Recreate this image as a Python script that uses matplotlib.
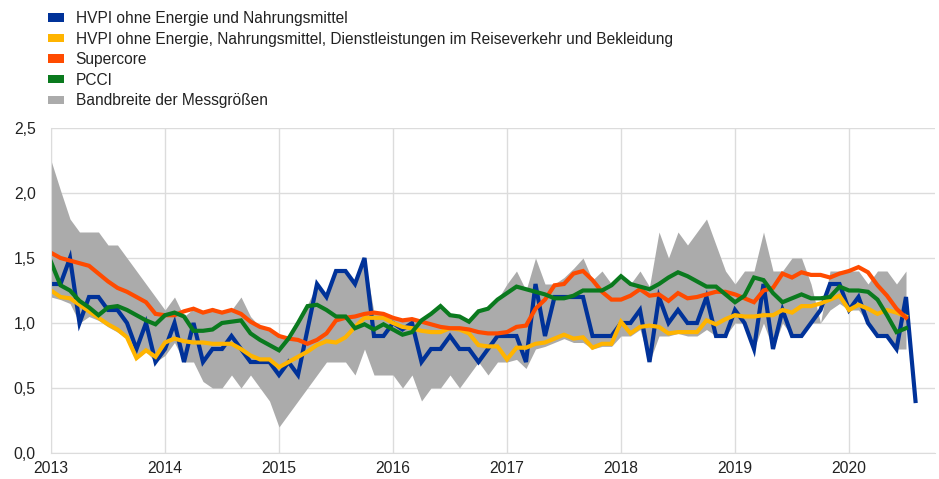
import numpy as np
import matplotlib
matplotlib.use('Agg')
import matplotlib.pyplot as plt
from matplotlib.patches import Patch

# monthly values, Jan 2013 onwards
hvpi_core = [1.3, 1.3, 1.5, 1.0, 1.2, 1.2, 1.1, 1.1, 1.0, 0.8, 1.0, 0.7,
             0.8, 1.0, 0.7, 1.0, 0.7, 0.8, 0.8, 0.9, 0.8, 0.7, 0.7, 0.7,
             0.6, 0.7, 0.6, 0.95, 1.3, 1.2, 1.4, 1.4, 1.3, 1.5, 0.9, 0.9,
             1.0, 0.95, 1.0, 0.7, 0.8, 0.8, 0.9, 0.8, 0.8, 0.7, 0.8, 0.9,
             0.9, 0.9, 0.7, 1.3, 0.9, 1.2, 1.2, 1.2, 1.2, 0.9, 0.9, 0.9,
             1.0, 1.0, 1.1, 0.7, 1.2, 1.0, 1.1, 1.0, 1.0, 1.2, 0.9, 0.9,
             1.1, 1.0, 0.8, 1.3, 0.8, 1.1, 0.9, 0.9, 1.0, 1.1, 1.3, 1.3,
             1.1, 1.2, 1.0, 0.9, 0.9, 0.8, 1.2, 0.4]

hvpi_ex_travel = [1.25, 1.2, 1.19, 1.14, 1.09, 1.04, 0.99, 0.95, 0.89, 0.73, 0.79, 0.74,
                  0.85, 0.88, 0.86, 0.85, 0.85, 0.84, 0.84, 0.84, 0.80, 0.75, 0.72, 0.72,
                  0.66, 0.70, 0.74, 0.78, 0.83, 0.86, 0.85, 0.89, 0.97, 1.04, 1.04, 1.04,
                  1.0, 0.97, 0.96, 0.94, 0.93, 0.93, 0.96, 0.95, 0.92, 0.83, 0.82, 0.82,
                  0.72, 0.81, 0.81, 0.84, 0.85, 0.88, 0.91, 0.88, 0.89, 0.81, 0.84, 0.84,
                  1.01, 0.92, 0.97, 0.98, 0.97, 0.92, 0.93, 0.93, 0.93, 1.02, 0.99, 1.03,
                  1.06, 1.05, 1.05, 1.06, 1.06, 1.10, 1.08, 1.13, 1.13, 1.15, 1.18, 1.21,
                  1.10, 1.14, 1.11, 1.07, 1.10, 1.08, 1.05]

supercore = [1.54, 1.50, 1.48, 1.46, 1.44, 1.38, 1.32, 1.27, 1.24, 1.20, 1.16, 1.07,
             1.06, 1.06, 1.09, 1.11, 1.08, 1.10, 1.08, 1.10, 1.07, 1.01, 0.97, 0.95,
             0.90, 0.88, 0.87, 0.84, 0.87, 0.92, 1.02, 1.04, 1.05, 1.07, 1.08, 1.07,
             1.04, 1.02, 1.03, 1.01, 0.99, 0.97, 0.96, 0.96, 0.95, 0.93, 0.92, 0.92,
             0.93, 0.97, 0.98, 1.11, 1.18, 1.29, 1.30, 1.38, 1.40, 1.33, 1.24, 1.18,
             1.18, 1.21, 1.26, 1.21, 1.22, 1.17, 1.23, 1.19, 1.20, 1.22, 1.24, 1.24,
             1.22, 1.19, 1.16, 1.25, 1.27, 1.38, 1.35, 1.39, 1.37, 1.37, 1.35, 1.38,
             1.40, 1.43, 1.39, 1.29, 1.21, 1.11, 1.04]

pcci = [1.47, 1.29, 1.25, 1.17, 1.12, 1.06, 1.12, 1.13, 1.10, 1.06, 1.02, 0.99,
        1.06, 1.08, 1.05, 0.94, 0.94, 0.95, 1.00, 1.01, 1.02, 0.92, 0.87, 0.83,
        0.79, 0.88, 1.00, 1.13, 1.14, 1.10, 1.05, 1.05, 0.96, 0.99, 0.95, 0.99,
        0.95, 0.91, 0.93, 1.02, 1.07, 1.13, 1.06, 1.05, 1.01, 1.09, 1.11, 1.18,
        1.23, 1.28, 1.26, 1.24, 1.22, 1.19, 1.19, 1.21, 1.25, 1.25, 1.25, 1.29,
        1.36, 1.30, 1.28, 1.26, 1.30, 1.35, 1.39, 1.36, 1.32, 1.28, 1.28, 1.22,
        1.16, 1.21, 1.35, 1.33, 1.23, 1.16, 1.19, 1.22, 1.19, 1.19, 1.20, 1.28,
        1.25, 1.25, 1.24, 1.18, 1.06, 0.93, 0.96]

band_high = [2.25, 2.02, 1.8, 1.7, 1.7, 1.7, 1.6, 1.6, 1.5, 1.4, 1.3, 1.2,
             1.1, 1.2, 1.05, 1.11, 1.08, 1.12, 1.08, 1.1, 1.2, 1.05, 0.97, 0.95,
             0.9, 0.9, 1.02, 1.14, 1.3, 1.2, 1.4, 1.4, 1.3, 1.5, 1.08, 1.07,
             1.04, 1.02, 1.03, 1.02, 1.07, 1.13, 1.06, 1.05, 1.01, 1.09, 1.11, 1.18,
             1.3, 1.4, 1.25, 1.5, 1.3, 1.3, 1.35, 1.42, 1.5, 1.33, 1.4, 1.3,
             1.36, 1.3, 1.4, 1.28, 1.7, 1.5, 1.7, 1.6, 1.7, 1.8, 1.6, 1.4,
             1.3, 1.4, 1.4, 1.7, 1.4, 1.4, 1.5, 1.5, 1.3, 1.0, 1.4, 1.4,
             1.4, 1.4, 1.3, 1.4, 1.4, 1.3, 1.4]

band_low = [1.2, 1.18, 1.15, 1.0, 1.05, 1.02, 0.97, 0.93, 0.88, 0.72, 0.78, 0.7,
            0.75, 0.85, 0.7, 0.7, 0.55, 0.5, 0.5, 0.6, 0.5, 0.6, 0.5, 0.4,
            0.2, 0.3, 0.4, 0.5, 0.6, 0.7, 0.7, 0.7, 0.6, 0.8, 0.6, 0.6,
            0.6, 0.5, 0.6, 0.4, 0.5, 0.5, 0.6, 0.5, 0.6, 0.7, 0.6, 0.7,
            0.7, 0.72, 0.65, 0.8, 0.82, 0.85, 0.88, 0.85, 0.85, 0.8, 0.82, 0.82,
            0.9, 0.9, 0.95, 0.7, 0.9, 0.9, 0.92, 0.9, 0.9, 0.95, 0.9, 0.9,
            1.0, 1.0, 0.8, 1.0, 0.8, 1.0, 0.9, 0.9, 1.0, 1.0, 1.1, 1.15,
            1.1, 1.1, 1.0, 0.9, 0.9, 0.8, 0.8]

years = list(range(2013, 2021))
y_ticks = [0.0, 0.5, 1.0, 1.5, 2.0, 2.5]

labels = ['HVPI ohne Energie und Nahrungsmittel',
          'HVPI ohne Energie, Nahrungsmittel, Dienstleistungen im Reiseverkehr und Bekleidung',
          'Supercore',
          'PCCI',
          'Bandbreite der Messgrößen']
colors = ['#003299', '#FFB400', '#FF4B00', '#0A7A1E', '#ABABAB']


def months(n):
    return 2013 + np.arange(n) / 12.0


plt.rcParams['font.family'] = ['Liberation Sans', 'DejaVu Sans']
fig = plt.figure(figsize=(9.39, 4.79), dpi=100)
ax = fig.add_axes([51 / 939, 26 / 479, 884 / 939, 325 / 479])

ax.fill_between(months(len(band_high)), band_low, band_high,
                color=colors[4], linewidth=0, zorder=1)
for series, col in zip([hvpi_core, hvpi_ex_travel, supercore, pcci], colors[:4]):
    ax.plot(months(len(series)), series, color=col, lw=3.0,
            solid_joinstyle='miter', zorder=2)

ax.set_xlim(2013, 2013 + 884 / 114)
ax.set_ylim(0, 2.5)
ax.set_xticks(years)
ax.set_xticklabels([str(y) for y in years])
ax.set_yticks(y_ticks)
ax.set_yticklabels([('%.1f' % v).replace('.', ',') for v in y_ticks])
ax.tick_params(length=0, labelsize=11.3, colors='#222222')
ax.tick_params(axis='y', pad=11)
ax.tick_params(axis='x', pad=6)
ax.grid(True, color='#DCDCDC', lw=1)
ax.set_axisbelow(True)
for side in ['top', 'right']:
    ax.spines[side].set_visible(False)
for side in ['left', 'bottom']:
    ax.spines[side].set_color('#DCDCDC')

handles = [Patch(facecolor=c, edgecolor='none') for c in colors]
fig.legend(handles, labels, loc='upper left', bbox_to_anchor=(48 / 939, 1 - 11 / 479),
           frameon=False, fontsize=11.2, handlelength=1.05, handleheight=0.45,
           handletextpad=0.72, labelspacing=0.36, borderpad=0, borderaxespad=0,
           labelcolor='#222222')

fig.savefig('out.png', dpi=100)
